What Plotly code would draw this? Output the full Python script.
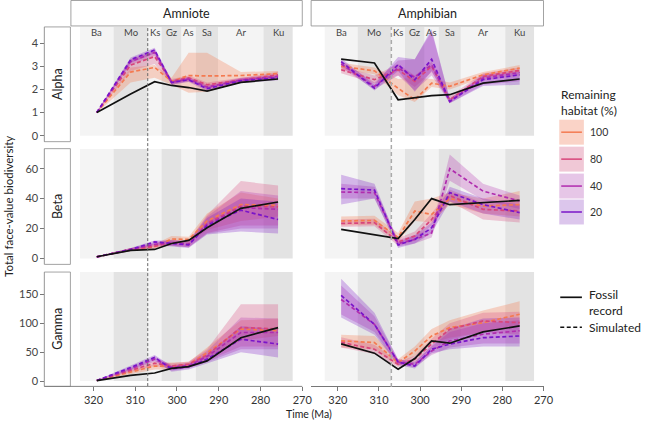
import plotly.graph_objects as go

W, H = 650, 426
FONT = "Lato"

# ---------------- data ----------------
time_ma = [319.2, 311.1, 305.35, 301.3, 297.2, 292.8, 284.7, 275.8]
stage_names = ["Ba", "Mo", "Ks", "Gz", "As", "Sa", "Ar", "Ku"]
stage_bounds = [323.2, 315.2, 307.0, 303.7, 298.9, 295.5, 290.1, 279.3, 272.3]
extinction_ma = 307.0
habitat_levels = [100, 80, 40, 20]
x_ticks = [320, 310, 300, 290, 280, 270]

# Amniote - Alpha
amn_alpha_fossil = [1.0, 1.8, 2.33, 2.17, 2.08, 1.93, 2.3, 2.45]
amn_alpha_sim = {100: [1.0, 2.75, 2.95, 2.35, 2.6, 2.58, 2.6, 2.68],
                 80: [1.0, 3.05, 3.42, 2.35, 2.5, 2.2, 2.4, 2.63],
                 40: [1.0, 3.2, 3.6, 2.3, 2.45, 2.1, 2.4, 2.56],
                 20: [1.0, 3.28, 3.7, 2.3, 2.42, 2.03, 2.38, 2.5]}
amn_alpha_lo = {100: [0.98, 2.3, 2.5, 2.2, 1.85, 1.9, 2.3, 2.45],
                80: [0.98, 2.8, 3.1, 2.25, 2.35, 2.05, 2.3, 2.5],
                40: [0.98, 3.05, 3.45, 2.2, 2.35, 2.0, 2.3, 2.45],
                20: [0.98, 3.15, 3.55, 2.2, 2.32, 1.93, 2.28, 2.4]}
amn_alpha_hi = {100: [1.02, 2.95, 3.05, 2.5, 3.58, 3.58, 2.75, 2.8],
                80: [1.02, 3.3, 3.65, 2.45, 2.6, 2.3, 2.5, 2.75],
                40: [1.02, 3.3, 3.72, 2.4, 2.55, 2.2, 2.5, 2.66],
                20: [1.02, 3.38, 3.8, 2.4, 2.52, 2.13, 2.48, 2.6]}

# Amphibian - Alpha
amp_alpha_fossil = [3.31, 3.14, 1.55, 1.63, 1.73, 1.77, 2.27, 2.45]
amp_alpha_sim = {100: [3.0, 2.8, 2.05, 1.55, 2.27, 2.13, 2.63, 2.92],
                 80: [2.85, 2.42, 2.85, 2.35, 3.0, 1.55, 2.56, 2.82],
                 40: [3.1, 2.13, 2.92, 2.53, 3.06, 1.48, 2.49, 2.73],
                 20: [3.2, 2.05, 3.07, 2.42, 3.3, 1.48, 2.42, 2.63]}
amp_alpha_lo = {100: [2.85, 2.65, 1.75, 1.45, 2.1, 2.0, 2.5, 2.75],
                80: [2.7, 2.25, 2.6, 2.1, 2.75, 1.45, 2.4, 2.6],
                40: [2.95, 2.0, 2.6, 1.95, 2.6, 1.4, 2.2, 2.35],
                20: [3.05, 1.95, 2.8, 1.9, 2.8, 1.4, 2.15, 2.2]}
amp_alpha_hi = {100: [3.15, 2.95, 2.45, 2.5, 2.45, 2.3, 2.75, 3.05],
                80: [3.0, 2.6, 3.1, 2.6, 3.2, 1.7, 2.7, 2.95],
                40: [3.25, 2.3, 3.25, 3.3, 4.5, 1.6, 2.65, 2.85],
                20: [3.35, 2.2, 3.4, 3.3, 4.6, 1.6, 2.6, 2.75]}

# Amniote - Beta
amn_beta_fossil = [1.1, 5.4, 6.0, 10.0, 12.0, 20.5, 33.5, 37.7]
amn_beta_sim = {100: [1.0, 6.0, 7.8, 13.0, 12.7, 25.0, 36.0, 35.5],
                80: [1.0, 5.8, 8.2, 10.5, 9.4, 23.5, 35.0, 34.5],
                40: [1.0, 5.8, 9.4, 10.5, 9.4, 22.7, 34.0, 32.8],
                20: [1.0, 6.0, 11.0, 10.0, 9.0, 22.0, 32.3, 26.0]}
amn_beta_lo = {100: [0.8, 5.0, 6.5, 10.5, 10.5, 19.0, 25.0, 28.0],
               80: [0.8, 4.8, 6.8, 8.5, 7.5, 17.0, 22.0, 22.0],
               40: [0.8, 4.8, 8.0, 8.5, 7.5, 16.5, 20.0, 20.0],
               20: [0.8, 5.0, 9.5, 8.0, 7.0, 16.0, 18.0, 16.7]}
amn_beta_hi = {100: [1.2, 7.0, 9.5, 15.0, 14.5, 30.0, 44.0, 40.0],
               80: [1.2, 6.8, 9.8, 12.5, 11.5, 29.0, 51.7, 48.8],
               40: [1.2, 6.8, 10.8, 12.5, 11.5, 28.0, 45.0, 42.0],
               20: [1.2, 7.0, 12.0, 12.0, 11.0, 27.0, 40.0, 38.0]}

# Amphibian - Beta
amp_beta_fossil = [19.4, 15.6, 13.2, 26.0, 40.0, 35.9, 37.2, 38.8]
amp_beta_sim = {100: [25.0, 25.4, 14.0, 31.7, 29.4, 40.0, 35.0, 36.0],
                80: [23.4, 23.9, 11.0, 15.0, 26.0, 42.0, 32.8, 31.7],
                40: [44.4, 44.0, 10.0, 12.7, 17.0, 60.0, 45.0, 38.4],
                20: [46.6, 45.7, 9.0, 12.7, 20.5, 44.0, 36.0, 30.6]}
amp_beta_lo = {100: [22.0, 22.5, 11.0, 25.0, 24.0, 36.0, 30.0, 28.0],
               80: [21.0, 21.5, 8.5, 12.0, 22.0, 38.0, 26.0, 24.0],
               40: [40.0, 40.0, 8.0, 10.0, 14.0, 52.0, 39.0, 33.0],
               20: [36.0, 40.0, 7.0, 10.0, 17.0, 38.0, 30.0, 26.0]}
amp_beta_hi = {100: [28.0, 28.5, 17.0, 38.0, 40.0, 44.0, 40.0, 45.0],
               80: [26.0, 26.5, 13.5, 18.0, 30.0, 46.0, 37.0, 38.0],
               40: [50.0, 48.0, 12.5, 15.5, 20.0, 69.5, 50.0, 42.0],
               20: [56.0, 50.0, 11.0, 15.5, 24.0, 48.0, 40.0, 36.0]}

# Amniote - Gamma
amn_gamma_fossil = [1.0, 10.0, 14.0, 22.0, 25.0, 35.0, 75.0, 92.5]
amn_gamma_sim = {100: [1.0, 15.0, 26.0, 26.0, 29.0, 49.0, 90.0, 87.0],
                 80: [1.0, 18.0, 31.0, 26.0, 29.0, 45.0, 92.5, 90.0],
                 40: [1.0, 21.0, 38.0, 24.0, 27.0, 42.5, 84.0, 84.0],
                 20: [1.0, 23.5, 41.0, 21.0, 25.0, 38.0, 72.4, 64.0]}
amn_gamma_lo = {100: [0.5, 12.0, 20.0, 20.0, 24.0, 40.0, 70.0, 78.0],
                80: [0.5, 15.0, 26.0, 21.0, 24.0, 35.0, 60.0, 60.0],
                40: [0.5, 18.0, 34.0, 18.0, 22.0, 33.0, 55.0, 55.0],
                20: [0.5, 20.0, 36.0, 16.0, 20.0, 30.0, 50.0, 41.0]}
amn_gamma_hi = {100: [1.5, 18.0, 30.0, 32.0, 33.0, 58.0, 105.0, 108.0],
                80: [1.5, 21.0, 35.0, 31.0, 34.0, 55.0, 133.0, 133.0],
                40: [1.5, 24.0, 42.0, 28.0, 32.0, 52.0, 110.0, 108.0],
                20: [1.5, 27.0, 45.0, 26.0, 30.0, 46.0, 95.0, 90.0]}

# Amphibian - Gamma
amp_gamma_fossil = [64.4, 48.3, 20.7, 39.0, 69.5, 65.5, 85.0, 95.4]
amp_gamma_sim = {100: [69.5, 66.7, 32.0, 52.0, 78.0, 92.5, 101.0, 115.5],
                 80: [67.0, 55.0, 29.0, 38.0, 64.0, 89.7, 104.0, 101.0],
                 40: [141.0, 98.0, 33.0, 29.0, 52.0, 69.5, 81.0, 87.0],
                 20: [148.0, 98.0, 33.0, 26.0, 55.0, 64.0, 75.0, 78.0]}
amp_gamma_lo = {100: [58.0, 55.0, 26.0, 44.0, 66.0, 75.0, 85.0, 95.0],
                80: [58.0, 47.0, 24.0, 32.0, 55.0, 72.0, 85.0, 80.0],
                40: [115.0, 85.0, 28.0, 24.0, 45.0, 58.0, 65.0, 65.0],
                20: [110.0, 80.0, 28.0, 22.0, 48.0, 55.0, 60.0, 60.0]}
amp_gamma_hi = {100: [80.0, 78.0, 38.0, 60.0, 90.0, 105.0, 122.0, 138.0],
                80: [76.0, 63.0, 34.0, 44.0, 73.0, 100.0, 118.0, 120.0],
                40: [165.0, 112.0, 38.0, 34.0, 60.0, 85.0, 100.0, 105.0],
                20: [177.0, 118.0, 38.0, 32.0, 62.0, 90.0, 108.0, 110.0]}

row_names = ["Alpha", "Beta", "Gamma"]
col_names = ["Amniote", "Amphibian"]
y_ticks = {"Alpha": [0, 1, 2, 3, 4], "Beta": [0, 20, 40, 60], "Gamma": [0, 50, 100, 150]}
y_ranges = {"Alpha": [-0.26, 4.70], "Beta": [-4.0, 73.4], "Gamma": [-9.1, 188.4]}

line_colors = {100: "#F47A50", 80: "#D8457A", 40: "#B02CAE", 20: "#7A14C9"}
fill_colors = {100: "rgba(244,122,80,0.30)", 80: "rgba(216,69,122,0.28)",
               40: "rgba(176,44,174,0.27)", 20: "rgba(122,20,201,0.27)"}
swatch_colors = {100: "#FAD3C7", 80: "#F0C8D6", 40: "#E6C6E7", 20: "#DCC6EC"}

panels = {
    (0, 0): (amn_alpha_fossil, amn_alpha_sim, amn_alpha_lo, amn_alpha_hi),
    (1, 0): (amp_alpha_fossil, amp_alpha_sim, amp_alpha_lo, amp_alpha_hi),
    (0, 1): (amn_beta_fossil, amn_beta_sim, amn_beta_lo, amn_beta_hi),
    (1, 1): (amp_beta_fossil, amp_beta_sim, amp_beta_lo, amp_beta_hi),
    (0, 2): (amn_gamma_fossil, amn_gamma_sim, amn_gamma_lo, amn_gamma_hi),
    (1, 2): (amp_gamma_fossil, amp_gamma_sim, amp_gamma_lo, amp_gamma_hi),
}

# ---------------- layout geometry (pixels) ----------------
def fx(p):
    return p / W

def fy(p):
    return 1 - p / H

col_px = [(72, 307), (316, 552)]
row_px = [(27, 142), (149, 265), (272.7, 387.3)]
x_ranges = [[325.4, 270], [326.5, 270]]
yaxis_px = 45

fig = go.Figure()

def axis_ids(c, r):
    xid = "x" if c == 0 else "x2"
    n = r + 1 + 3 * c
    yid = "y" if n == 1 else f"y{n}"
    return xid, yid

for (c, r), (fossil, sim, lo, hi) in panels.items():
    xid, yid = axis_ids(c, r)
    for lv in habitat_levels:
        fig.add_trace(go.Scatter(
            x=time_ma + time_ma[::-1], y=hi[lv] + lo[lv][::-1],
            fill="toself", fillcolor=fill_colors[lv], line=dict(width=0),
            mode="lines", hoverinfo="skip", showlegend=False, xaxis=xid, yaxis=yid))
    for lv in habitat_levels:
        fig.add_trace(go.Scatter(
            x=time_ma, y=sim[lv], mode="lines",
            line=dict(color=line_colors[lv], width=1.7, dash="4px,2.5px"),
            showlegend=False, xaxis=xid, yaxis=yid))
    fig.add_trace(go.Scatter(
        x=time_ma, y=fossil, mode="lines", line=dict(color="#111111", width=1.7),
        showlegend=False, xaxis=xid, yaxis=yid))

shapes = []
annotations = []

def note(x, y, text, size, color="#222", xanchor="center", xref="paper", angle=0, align="center"):
    annotations.append(dict(x=x, y=y, xref=xref, yref="paper", text=text, showarrow=False,
                            xanchor=xanchor, yanchor="middle", textangle=angle, align=align,
                            font=dict(size=size, color=color, family=FONT)))

# stage bands
for c in range(2):
    for r in range(3):
        xid, yid = axis_ids(c, r)
        top = y_ranges[row_names[r]][1]
        for i in range(len(stage_names)):
            shapes.append(dict(type="rect", xref=xid, yref=yid, layer="below",
                               x0=stage_bounds[i], x1=stage_bounds[i + 1], y0=0, y1=top,
                               fillcolor="#F4F4F4" if i % 2 == 0 else "#E3E3E3",
                               line=dict(width=0)))

# stage labels
for c in range(2):
    xid, _ = axis_ids(c, 0)
    for i, nm in enumerate(stage_names):
        note((stage_bounds[i] + stage_bounds[i + 1]) / 2, fy(33), nm, 9.5, "#444", xref=xid)

# extinction dashed lines
shapes.append(dict(type="line", xref="x", yref="paper", x0=extinction_ma, x1=extinction_ma,
                   y0=fy(387), y1=fy(27), layer="above",
                   line=dict(color="#666", width=1, dash="3px,2px")))
shapes.append(dict(type="line", xref="x2", yref="paper", x0=extinction_ma, x1=extinction_ma,
                   y0=fy(388), y1=fy(27), layer="above",
                   line=dict(color="#AAAAAA", width=1.5, dash="4px,3px")))

# column strips
for c, nm in enumerate(col_names):
    x0, x1 = col_px[c]
    shapes.append(dict(type="rect", xref="paper", yref="paper", x0=fx(x0), x1=fx(x1),
                       y0=fy(26), y1=fy(0.5), fillcolor="white",
                       line=dict(color="#8C8C8C", width=0.8)))
    note(fx((x0 + x1) / 2), fy(13.5), nm, 12.5)

# row strips
for r, nm in enumerate(row_names):
    y0, y1 = row_px[r]
    shapes.append(dict(type="rect", xref="paper", yref="paper", x0=fx(45), x1=fx(71.5),
                       y0=fy(y1), y1=fy(y0), fillcolor="white",
                       line=dict(color="#8C8C8C", width=0.8)))
    note(fx(58.5), fy((y0 + y1) / 2), nm, 12.5, angle=-90)

# left x-axis line (spans strip + panel)
shapes.append(dict(type="line", xref="paper", yref="paper", x0=fx(45), x1=fx(307),
                   y0=fy(387.3), y1=fy(387.3), line=dict(color="#777", width=0.9)))

# axis titles
note(fx(314), fy(414.5), "Time (Ma)", 10.5)
note(fx(8.5), fy(207), "Total face-value biodiversity", 11.5, angle=-90)

# legend (habitat)
note(fx(568), fy(102.5), "Remaining<br>habitat (%)", 12, xanchor="left", align="left")
sw_tops = [120, 147, 174, 200]
for lv, t in zip(habitat_levels, sw_tops):
    shapes.append(dict(type="rect", xref="paper", yref="paper", x0=fx(568), x1=fx(593),
                       y0=fy(t + 25), y1=fy(t), fillcolor=swatch_colors[lv], line=dict(width=0)))
    shapes.append(dict(type="line", xref="paper", yref="paper", x0=fx(570), x1=fx(591),
                       y0=fy(t + 12.5), y1=fy(t + 12.5),
                       line=dict(color=line_colors[lv], width=1.5)))
    note(fx(597), fy(t + 12.5), str(lv), 10.5, "#333", xanchor="left")

# legend (line type)
shapes.append(dict(type="line", xref="paper", yref="paper", x0=fx(569), x1=fx(591),
                   y0=fy(298), y1=fy(298), line=dict(color="#111", width=1.7)))
shapes.append(dict(type="line", xref="paper", yref="paper", x0=fx(569), x1=fx(591),
                   y0=fy(328), y1=fy(328), line=dict(color="#111", width=1.7, dash="4px,2.5px")))
note(fx(596), fy(303.5), "Fossil<br>record", 12, xanchor="left", align="left")
note(fx(596), fy(328), "Simulated", 12, xanchor="left", align="left")

layout = dict(
    width=W, height=H, margin=dict(l=0, r=0, t=0, b=0),
    paper_bgcolor="white", plot_bgcolor="white", showlegend=False,
    font=dict(family=FONT, color="#333"),
    shapes=shapes, annotations=annotations,
)

for c in range(2):
    key = "xaxis" if c == 0 else "xaxis2"
    layout[key] = dict(domain=[fx(col_px[c][0]), fx(col_px[c][1])], range=x_ranges[c],
                       anchor=axis_ids(c, 2)[1], tickvals=x_ticks,
                       ticktext=[str(v) for v in x_ticks], ticks="outside", ticklen=4,
                       tickcolor="#777", tickwidth=0.9, showgrid=False, zeroline=False,
                       showline=(c == 1), linecolor="#777", linewidth=0.9,
                       ticklabelstandoff=-1,
                       tickfont=dict(size=11, color="#333", family=FONT))

for c in range(2):
    for r in range(3):
        _, yid = axis_ids(c, r)
        key = "yaxis" + ("" if yid == "y" else yid[1:])
        nm = row_names[r]
        d = dict(domain=[fy(row_px[r][1]), fy(row_px[r][0])], range=y_ranges[nm],
                 showgrid=False, zeroline=False)
        if c == 0:
            d.update(anchor="free", position=fx(yaxis_px), tickvals=y_ticks[nm],
                     ticks="outside", ticklen=4, tickcolor="#777", tickwidth=0.9,
                     showline=True, linecolor="#8C8C8C", linewidth=0.8,
                     tickfont=dict(size=11, color="#444", family=FONT))
        else:
            d.update(anchor="x2", visible=False)
        layout[key] = d

fig.update_layout(**layout)
fig.write_html("out.html", config={"displayModeBar": False},
               post_script="document.body.style.margin='0';document.body.style.overflow='hidden';")
